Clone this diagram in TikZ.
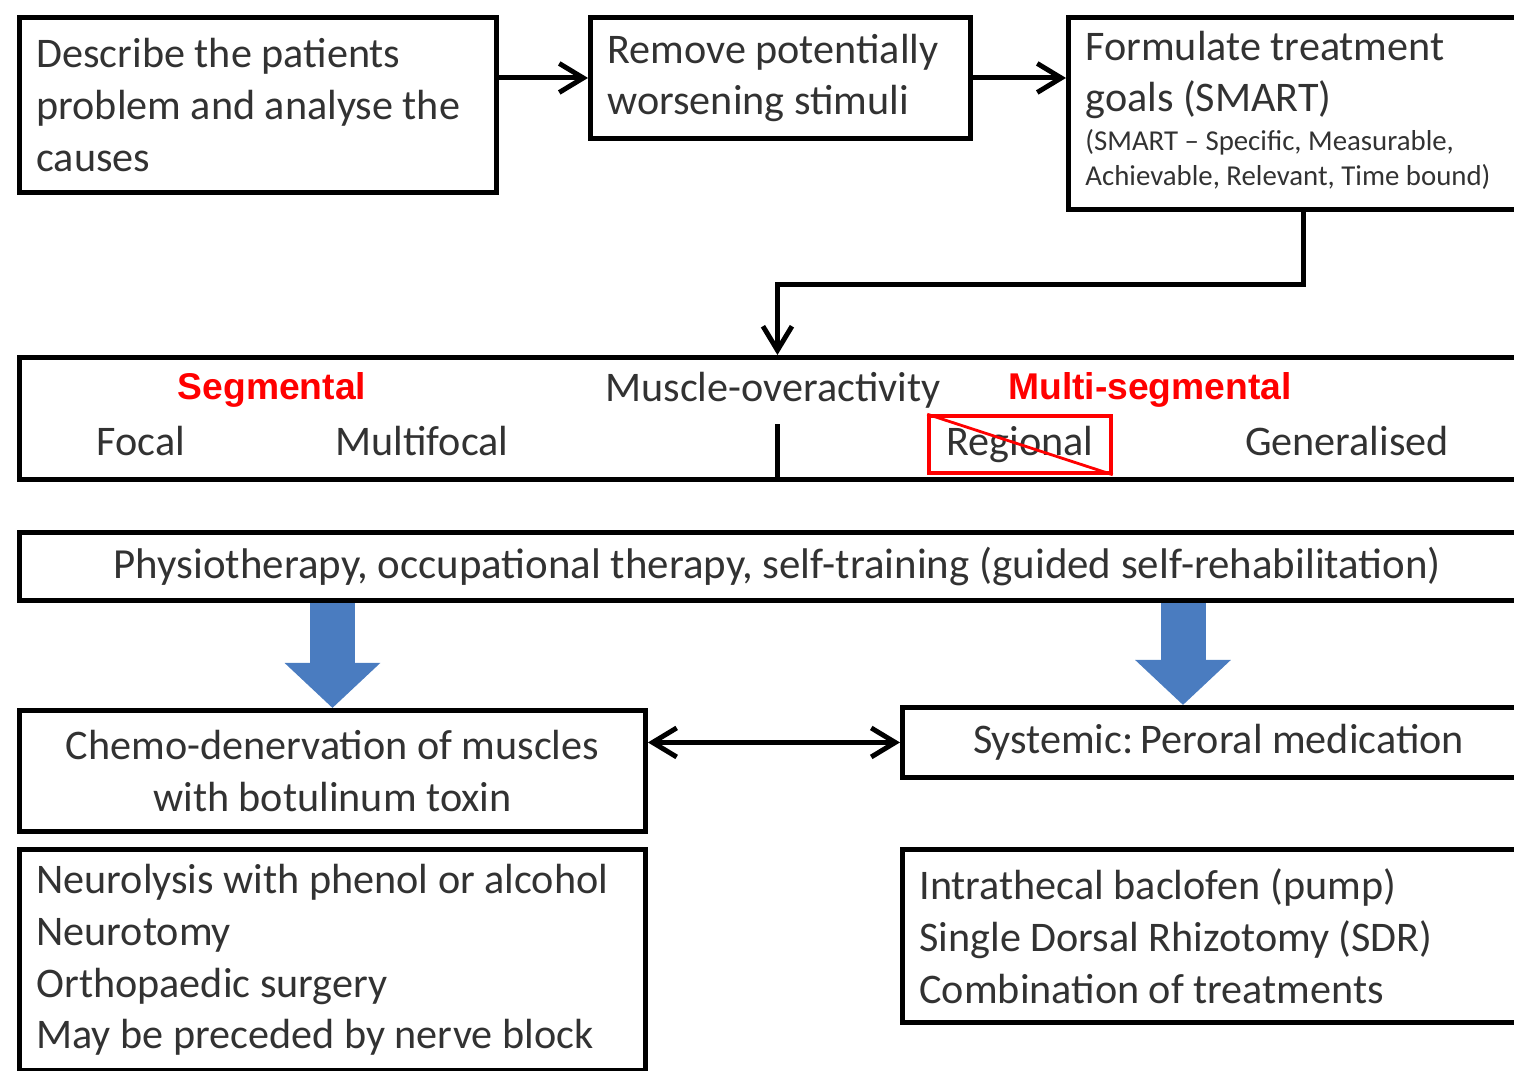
\documentclass[tikz,border=0pt]{standalone}
\usepackage{fontspec}
\setmainfont{Carlito}
\newfontfamily\redfont{Liberation Sans}
\usetikzlibrary{positioning}
\usetikzlibrary{arrows.meta}
\definecolor{arrowblue}{RGB}{74,124,192}
\definecolor{textgray}{RGB}{50,50,50}
\tikzset{
        stepbox/.style={draw=black, line width=1.4pt, rectangle, anchor=north west, inner sep=0pt, text=textgray,
                        font=\fontsize{12}{14.75}\selectfont},
        % Boxes with left aligned text
        leftbox/.style={stepbox, align=flush left, inner xsep=0.17cm},
        % Boxes with centred text
        centrebox/.style={stepbox, align=center},
        % Plain labels inside the muscle box
        label_gray/.style={inner sep=0pt, text=textgray, font=\fontsize{12}{14.75}\selectfont},
        % Red headings
        label_red/.style={inner sep=0pt, text=red, font=\redfont\bfseries\fontsize{10.6}{12}\selectfont},
        % Crossed out box
        crossbox/.style={draw=red, line width=1pt, minimum width=1.82cm, minimum height=0.57cm, inner sep=0pt},
        % Thin black arrows
        link/.style={line width=1.4pt, -{Straight Barb[length=2.4mm, width=2.9mm]}},
        % Big blue arrows
        bigarrow/.style={arrowblue, line width=0.45cm, -{Triangle[width=0.93cm, length=0.45cm]}}
}
\begin{document}
\begin{tikzpicture}
        \useasboundingbox (0,0) rectangle (15.14,-10.71);
        \clip (0,0) rectangle (15.14,-10.71);
        % top row
        \node[leftbox, minimum width=4.77cm, minimum height=1.75cm, text width=4.43cm] (describe) at (0.17,-0.15)
            {Describe the patients\\problem and analyse the\\causes};
        \node[leftbox, minimum width=3.80cm, minimum height=1.21cm, text width=3.46cm] (remove) at (5.88,-0.15)
            {Remove potentially\\worsening stimuli};
        \node[leftbox, minimum width=4.70cm, minimum height=1.92cm, text width=4.36cm] (goals) at (10.66,-0.15)
            {Formulate treatment\\goals (SMART)\\[-3.7pt]
             {\fontsize{8.2}{9.9}\selectfont\begin{tabular}[t]{@{}l@{}}(SMART -- Specific, Measurable,\\
              Achievable, Relevant, Time bound)\end{tabular}}};
        % muscle overactivity
        \node[stepbox, minimum width=15.16cm, minimum height=1.22cm] (muscle) at (0.17,-3.55) {};
        \node[label_gray] (overact) at (7.73,-3.90) {Muscle-overactivity};
        \node[label_red] (segm) at (2.72,-3.90) {Segmental};
        \node[label_red] (multisegm) at (11.50,-3.90) {Multi-segmental};
        \node[label_gray] (focal) at (1.41,-4.41) {Focal};
        \node[label_gray] (multifocal) at (4.22,-4.41) {Multifocal};
        \node[label_gray, crossbox] (regional) at (10.20,-4.445) {Regional};
        \node[label_gray] (general) at (13.47,-4.41) {Generalised};
        \draw[red, line width=0.8pt] (regional.north west) -- (regional.south east);
        \draw[line width=1.4pt] (muscle.south) -- ++(0,0.58);
        % therapy
        \node[centrebox, minimum width=15.16cm, minimum height=0.68cm, font=\fontsize{12.2}{14.75}\selectfont] (physio) at (0.17,-5.30)
            {Physiotherapy, occupational therapy, self-training (guided self-rehabilitation)};
        % treatments
        \node[centrebox, minimum width=6.26cm, minimum height=1.21cm] (chemo) at (0.17,-7.08)
            {Chemo-denervation of muscles\\with botulinum toxin};
        \node[centrebox, minimum width=6.32cm, minimum height=0.70cm] (systemic) at (9.00,-7.05)
            {Systemic:\,Peroral medication};
        \node[leftbox, minimum width=6.26cm, minimum height=2.21cm, text width=5.92cm] (neuro) at (0.17,-8.47)
            {Neurolysis with phenol or alcohol\\Neurotomy\\Orthopaedic surgery\\May be preceded by nerve block};
        \node[leftbox, minimum width=6.40cm, minimum height=1.73cm, text width=6.06cm] (intrathecal) at (9.00,-8.47)
            {Intrathecal baclofen (pump)\\Single Dorsal Rhizotomy (SDR)\\Combination of treatments};
        % connectors
        \draw[link] (describe.east |- remove.west) -- (remove.west);
        \draw[link] (remove.east) -- (remove.east -| goals.west);
        \draw[link] (goals.south) -- ++(0,-0.73) -| (muscle.north);
        \draw[link, {Straight Barb[length=2.4mm, width=2.9mm]}-{Straight Barb[length=2.4mm, width=2.9mm]}]
            (chemo.east |- systemic.west) -- (systemic.west);
        \draw[bigarrow] (physio.south -| chemo.north) -- (chemo.north);
        \draw[bigarrow] (11.83,0 |- physio.south) -- (11.83,0 |- systemic.north);
\end{tikzpicture}
\end{document}
